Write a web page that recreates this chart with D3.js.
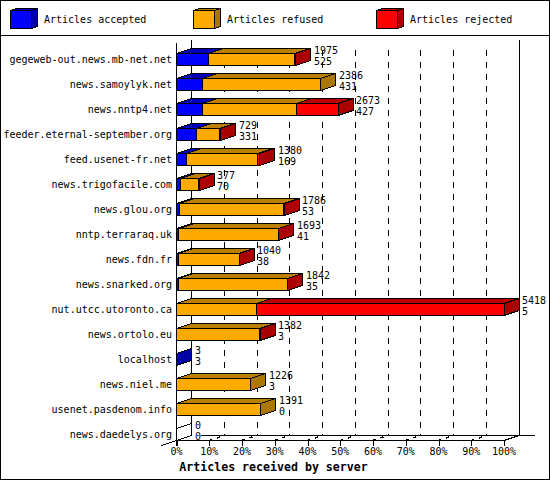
<!DOCTYPE html>
<html>
<head>
<meta charset="utf-8">
<script src="https://cdn.jsdelivr.net/npm/d3@7"></script>
<style>
html, body { margin: 0; padding: 0; background: #fff; }
svg { display: block; }
text { font-family: "DejaVu Sans Mono", monospace; font-size: 10px; fill: #000; }
.title { font-size: 11.6px; font-weight: bold; }
</style>
</head>
<body>
<script>
var servers = ["gegeweb-out.news.mb-net.net", "news.samoylyk.net", "news.nntp4.net",
    "feeder.eternal-september.org", "feed.usenet-fr.net", "news.trigofacile.com",
    "news.glou.org", "nntp.terraraq.uk", "news.fdn.fr", "news.snarked.org",
    "nut.utcc.utoronto.ca", "news.ortolo.eu", "localhost", "news.niel.me",
    "usenet.pasdenom.info", "news.daedelys.org"];
var accepted = [525, 431, 427, 331, 169, 70, 53, 41, 38, 35, 5, 3, 3, 3, 0, 0];
var refused  = [1424, 1955, 1561, 383, 1168, 299, 1713, 1644, 996, 1801, 1322, 1373, 0, 1223, 1391, 0];
var rejected = [26, 0, 685, 15, 43, 8, 20, 8, 6, 6, 4091, 6, 0, 0, 0, 0];
var totals   = [1975, 2386, 2673, 729, 1380, 377, 1786, 1693, 1040, 1842, 5418, 1382, 3, 1226, 1391, 0];
var legendNames = ["Articles accepted", "Articles refused", "Articles rejected"];
var percentTicks = [0, 10, 20, 30, 40, 50, 60, 70, 80, 90, 100];

var width = 550, height = 480,
    depthX = 15, depthY = 5,
    barHeight = 12,
    left = 176.5, right = 504,
    floorY = 440.5;

var seriesColors = [
    {front: "#0000ff", top: "#0000bb", side: "#0000aa"},
    {front: "#ffaa00", top: "#bb8000", side: "#aa7700"},
    {front: "#ff0000", top: "#bb0000", side: "#aa0000"}
];

var x = d3.scaleLinear().domain([0, d3.max(totals)]).range([left, right]);
var pct = d3.scaleLinear().domain([0, 100]).range([left, right]);
var y = d3.scalePoint().domain(servers).range([53.5, 428.5]);

var svg = d3.select("body").append("svg").attr("width", width).attr("height", height);

var shapes = svg.append("g").attr("shape-rendering", "crispEdges");
var labels = svg.append("g");

function poly(g, pts, fill) {
    return g.append("polygon")
        .attr("points", pts.map(function (p) { return p.join(","); }).join(" "))
        .attr("fill", fill).attr("stroke", "#000").attr("stroke-width", 1);
}

function line(g, x1, y1, x2, y2) {
    return g.append("line").attr("x1", x1).attr("y1", y1).attr("x2", x2).attr("y2", y2)
        .attr("stroke", "#000").attr("stroke-width", 1);
}

// frame
shapes.append("rect").attr("x", 0.5).attr("y", 0.5).attr("width", width - 1).attr("height", height - 1)
    .attr("fill", "#fff").attr("stroke", "#000");
line(shapes, 0, 35.5, width, 35.5);

// legend
var legendX = [10.5, 193.5, 376.5];
legendNames.forEach(function (name, i) {
    var x0 = legendX[i], x1 = x0 + 21, top = 10.5, bottom = 28.5;
    poly(shapes, [[x0, top], [x0 + 6, top - 2], [x1 + 6, top - 2], [x1, top]], seriesColors[i].top);
    poly(shapes, [[x1, top], [x1 + 6, top - 2], [x1 + 6, bottom - 2], [x1, bottom]], seriesColors[i].side);
    poly(shapes, [[x0, top], [x1, top], [x1, bottom], [x0, bottom]], seriesColors[i].front);
    labels.append("text").attr("x", x0 + 33.5).attr("y", 23).text(name);
});

// walls and floor
line(shapes, left + depthX, 40, left + depthX, floorY - depthY);
line(shapes, right + depthX, 40, right + depthX, floorY - depthY);
line(shapes, left, 43, left, floorY + 5);
line(shapes, 201, floorY - depthY, right + 31, floorY - depthY);
line(shapes, left, floorY, right, floorY);
line(shapes, left - 15, floorY + depthY, left + depthX, floorY - depthY);
line(shapes, right, floorY, right + depthX, floorY - depthY);

// dashed grid on the back wall, and its short run across the floor
percentTicks.slice(1, -1).forEach(function (p) {
    line(shapes, pct(p) + depthX, 50, pct(p) + depthX, floorY - depthY).attr("stroke-dasharray", "6,6");
    line(shapes, pct(p), floorY, pct(p) + depthX, floorY - depthY)
        .attr("stroke-dasharray", "3,5,3,4").attr("stroke-width", 1.6);
});

// bars
servers.forEach(function (name, i) {
    var top = y(name), bottom = top + barHeight;
    var parts = [accepted[i], refused[i], rejected[i]];
    var start = 0, last = -1;
    parts.forEach(function (v, k) {
        if (!v) return;
        var x0 = x(start), x1 = x(start + v);
        poly(shapes, [[x0, top], [x0 + depthX, top - depthY], [x1 + depthX, top - depthY], [x1, top]], seriesColors[k].top);
        poly(shapes, [[x0, top], [x1, top], [x1, bottom], [x0, bottom]], seriesColors[k].front);
        start += v;
        last = k;
    });
    var end = x(start);
    if (last >= 0) {
        poly(shapes, [[end, top], [end + depthX, top - depthY], [end + depthX, bottom - depthY], [end, bottom]], seriesColors[last].side);
    } else {
        line(shapes, end, top, end + depthX, top - depthY);
    }
    var lx = Math.round(end + 18);
    labels.append("text").attr("x", 172).attr("y", Math.round(top + 9))
        .attr("text-anchor", "end").text(name);
    labels.append("text").attr("x", lx).attr("y", Math.round(top)).text(totals[i]);
    labels.append("text").attr("x", lx).attr("y", Math.round(top + 11)).text(accepted[i]);
});

// percent axis
var axis = d3.axisBottom(pct).tickValues(percentTicks).tickSize(5).tickSizeOuter(0).tickPadding(2)
    .tickFormat(function (d) { return d + "%"; });
var axisG = svg.append("g").attr("transform", "translate(0," + floorY + ")").call(axis);
axisG.select(".domain").remove();
axisG.selectAll("line").attr("shape-rendering", "crispEdges");
axisG.attr("font-family", null).attr("font-size", null);
axisG.selectAll("text").attr("dx", -0.5);

labels.append("text").attr("class", "title").attr("x", 273.5).attr("y", 471)
    .attr("text-anchor", "middle").text("Articles received by server");
</script>
</body>
</html>
